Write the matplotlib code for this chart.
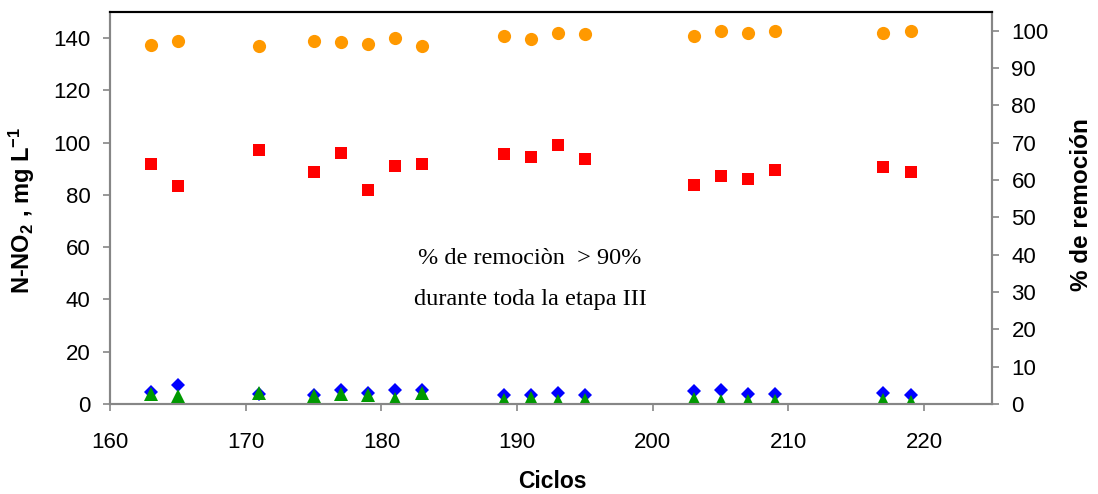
import matplotlib
matplotlib.use('Agg')
import matplotlib.pyplot as plt

plt.rcParams['font.family'] = ['Liberation Sans', 'DejaVu Sans']
plt.rcParams['mathtext.fontset'] = 'custom'
plt.rcParams['mathtext.bf'] = 'Liberation Sans:bold'
plt.rcParams['mathtext.rm'] = 'Liberation Sans:bold'
plt.rcParams['mathtext.default'] = 'bf'

# cycles
ciclos = [163, 165, 171, 175, 177, 179, 181, 183, 189, 191, 193, 195,
          203, 205, 207, 209, 217, 219]

# N-NO2 (mg/L), left axis
influente = [91.9, 83.3, 97.3, 88.9, 96.0, 81.8, 91.1, 91.9, 95.6, 94.5, 99.1, 93.9,
             83.9, 87.4, 86.1, 89.5, 90.7, 88.9]
efluente_a = [4.5, 7.1, 3.9, 3.4, 5.4, 4.1, 5.4, 5.4, 3.5, 3.4, 4.3, 3.6,
              4.8, 5.2, 4.0, 3.7, 4.1, 3.4]
efluente_b = [3.9, 3.2, 4.3, 3.2, 3.9, 3.4, 2.0, 4.3, 1.7, 2.4, 1.3, 1.5,
              2.0, 1.0, 1.0, 1.0, 1.5, 0.7]

# % removal, right axis
remocion = [96.2, 97.3, 95.8, 97.3, 96.9, 96.5, 98.0, 95.8, 98.5, 97.8, 99.5, 99.2,
            98.7, 99.9, 99.3, 99.9, 99.5, 99.9]

gray = '#868686'

fig = plt.figure(figsize=(10.98, 4.94), dpi=100)
ax = fig.add_axes([0.1002, 0.1822, 0.8033, 0.7935])
ax2 = ax.twinx()

ax.plot(ciclos, influente, 's', color='#FF0000', markersize=9, markeredgewidth=0, zorder=3)
ax.plot(ciclos, efluente_a, 'D', color='#0000FF', markersize=7.5, markeredgewidth=0, zorder=3)
ax.plot(ciclos, efluente_b, '^', color='#009900', markersize=9.5, markeredgewidth=0, zorder=4)
ax2.plot(ciclos, remocion, 'o', color='#FF9900', markersize=9.5, markeredgewidth=0, zorder=3)

ax.set_xlim(160, 225)
ax.set_ylim(0, 150)
ax2.set_ylim(0, 105)
ax.set_xticks(range(160, 221, 10))
ax.set_yticks(range(0, 141, 20))
ax2.set_yticks(range(0, 101, 10))

for a in (ax, ax2):
    for s in ('left', 'right', 'bottom'):
        a.spines[s].set_color(gray)
        a.spines[s].set_linewidth(1.5)
    a.spines['top'].set_color('black')
    a.spines['top'].set_linewidth(1.5)
    a.tick_params(colors=gray, labelcolor='black', labelsize=16, length=5, width=1.2, pad=9)

ax.tick_params(axis='x', pad=15)

fig.text(552 / 1098, 1 - 481 / 494, 'Ciclos', ha='center', va='center',
         fontsize=16.5, fontweight='bold')
fig.text(22 / 1098, 1 - 210 / 494, 'N-NO$_2$ , mg L$^{-1}$', ha='center', va='center',
         rotation=90, fontsize=17, fontweight='bold')
fig.text(1081 / 1098, 1 - 205 / 494, '% de remoción', ha='center', va='center',
         rotation=90, fontsize=17.5, fontweight='bold')

fig.text(530 / 1098, 1 - 259 / 494, '% de remociòn  > 90%', ha='center', va='center',
         fontsize=17.5, family='Liberation Serif')
fig.text(530 / 1098, 1 - 300 / 494, 'durante toda la etapa III', ha='center', va='center',
         fontsize=17.5, family='Liberation Serif')

fig.savefig('out.png', dpi=100)
